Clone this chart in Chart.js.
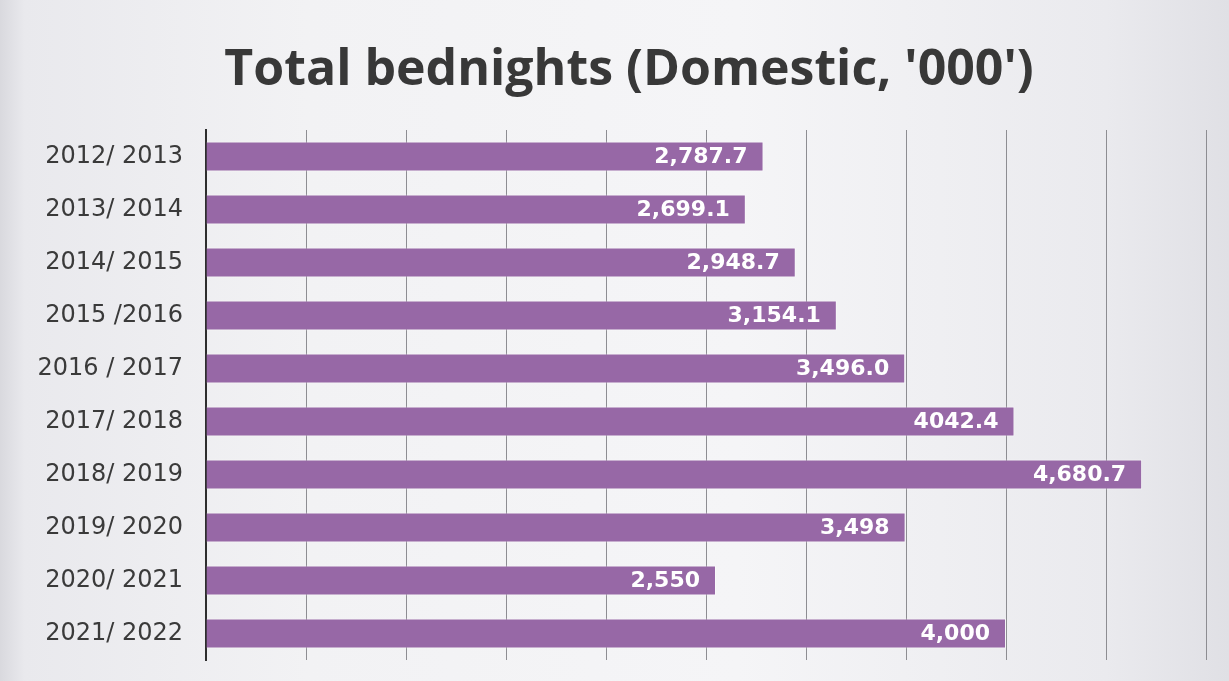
<!DOCTYPE html>
<html>
<head>
<meta charset="utf-8">
<script src="https://cdn.jsdelivr.net/npm/chart.js@4.4.1/dist/chart.umd.min.js"></script>
<style>
  html, body { margin: 0; padding: 0; }
  body {
    width: 1229px; height: 681px; overflow: hidden;
    background: linear-gradient(90deg, #d9d9de 0%, #e9e9ed 2%, #f2f2f4 25%, #f5f5f7 60%, #eaeaee 90%, #e0e0e5 100%);
  }
  #wrap { position: relative; width: 1229px; height: 681px; }
  canvas { display: block; }
</style>
</head>
<body>
<div id="wrap"><canvas id="c" width="1229" height="681"></canvas></div>
<script>
const categories = ["2012/ 2013", "2013/ 2014", "2014/ 2015", "2015 /2016", "2016 / 2017",
                    "2017/ 2018", "2018/ 2019", "2019/ 2020", "2020/ 2021", "2021/ 2022"];
const values = [2787.7, 2699.1, 2948.7, 3154.1, 3496.0, 4042.4, 4680.7, 3498, 2550, 4000];
const valueLabels = ["2,787.7", "2,699.1", "2,948.7", "3,154.1", "3,496.0", "4042.4", "4,680.7", "3,498", "2,550", "4,000"];
const xTicks = [0, 500, 1000, 1500, 2000, 2500, 3000, 3500, 4000, 4500, 5000];
const titleText = "Total bednights (Domestic, '000')";

const PAD_LEFT = 10;

const titlePlugin = {
  id: 'centredTitle',
  afterDraw(chart) {
    const ctx = chart.ctx;
    ctx.save();
    ctx.font = 'bold 50px "Open Sans", sans-serif';
    ctx.fillStyle = '#383838';
    ctx.textAlign = 'center';
    ctx.textBaseline = 'alphabetic';
    ctx.fillText(titleText, 629, 85);
    ctx.restore();
  }
};

const barLabelPlugin = {
  id: 'barLabels',
  afterDatasetsDraw(chart) {
    const ctx = chart.ctx;
    const meta = chart.getDatasetMeta(0);
    ctx.save();
    ctx.font = 'bold 22px "DejaVu Sans", sans-serif';
    ctx.fillStyle = '#ffffff';
    ctx.textAlign = 'right';
    ctx.textBaseline = 'middle';
    meta.data.forEach((bar, i) => {
      ctx.fillText(valueLabels[i], bar.x - 16, bar.y + 1);
    });
    ctx.restore();
  }
};

new Chart(document.getElementById('c'), {
  type: 'bar',
  data: {
    labels: categories,
    datasets: [{
      data: values,
      backgroundColor: '#9768a6',
      borderColor: 'rgba(255,255,255,0.5)',
      borderWidth: 1,
      barPercentage: 0.57,
      categoryPercentage: 1.0
    }]
  },
  options: {
    indexAxis: 'y',
    responsive: false,
    maintainAspectRatio: false,
    animation: false,
    layout: { padding: { left: PAD_LEFT, right: 23, top: 130, bottom: 21 } },
    plugins: {
      legend: { display: false },
      tooltip: { enabled: false },
      title: { display: false }
    },
    scales: {
      x: {
        min: 0, max: 5000,
        afterBuildTicks(scale) { scale.ticks = xTicks.map(v => ({ value: v })); },
        afterFit(scale) { scale.height = 0; },
        ticks: { display: false },
        grid: { color: '#8d8d92', lineWidth: 1, drawTicks: false },
        border: { display: false }
      },
      y: {
        afterFit(scale) {
          scale.width = 206 - PAD_LEFT;
          scale.paddingTop = 0;
          scale.paddingBottom = 0;
        },
        grid: { display: false, drawTicks: false },
        border: { display: true, color: '#2e2e2e', width: 2 },
        ticks: {
          color: '#3a3a3a',
          padding: 23,
          font: { family: '"DejaVu Sans"', size: 24 }
        }
      }
    }
  },
  plugins: [barLabelPlugin, titlePlugin]
});
</script>
</body>
</html>
